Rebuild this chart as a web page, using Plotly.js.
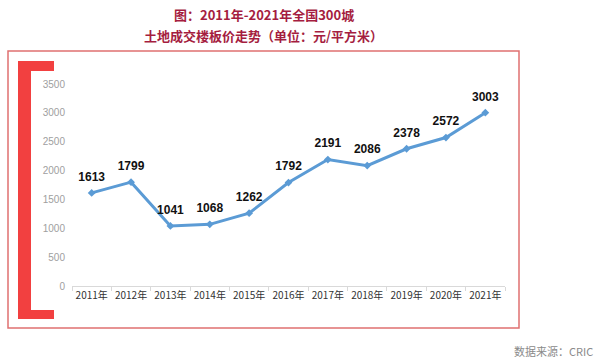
<!DOCTYPE html>
<html>
<head>
<meta charset="utf-8">
<script src="https://cdn.plot.ly/plotly-3.0.1.min.js"></script>
<style>
html,body{margin:0;padding:0;background:#fff;}
#chart{width:600px;height:361px;}
</style>
</head>
<body>
<div id="chart"></div>
<script>
var years = ["2011年","2012年","2013年","2014年","2015年","2016年","2017年","2018年","2019年","2020年","2021年"];
var prices = [1613, 1799, 1041, 1068, 1262, 1792, 2191, 2086, 2378, 2572, 3003];
var yTicks = [0, 500, 1000, 1500, 2000, 2500, 3000, 3500];
var titleLines = ["图：2011年-2021年全国300城", "土地成交楼板价走势（单位：元/平方米）"];
var sourceText = "数据来源：CRIC";

// plot area in pixels: x 72..505, y 84..286
var L = 72, R = 505, T = 84, B = 286;
function px(x){ return (x - L) / (R - L); }
function py(y){ return (B - y) / (B - T); }

var cjk = '"Noto Sans CJK SC", "Noto Sans", sans-serif';
var bracketColor = '#f24040';

var lineTrace = {
  x: years,
  y: prices,
  type: 'scatter',
  mode: 'lines+markers',
  line: {color: '#5b9bd5', width: 3},
  marker: {symbol: 'diamond', size: 6, color: '#5b9bd5'},
  cliponaxis: false,
  hoverinfo: 'x+y'
};

var labelTrace = {
  x: years,
  y: prices,
  type: 'scatter',
  mode: 'markers+text',
  marker: {size: 13, color: 'rgba(0,0,0,0)'},
  text: prices.map(String),
  textposition: 'top center',
  textfont: {family: '"Liberation Sans", Arial, sans-serif', size: 12, color: '#111', weight: 'bold'},
  cliponaxis: false,
  hoverinfo: 'skip'
};

var layout = {
  width: 600, height: 361,
  margin: {l: L, r: 600 - R, t: T, b: 361 - B, pad: 0},
  paper_bgcolor: '#fff', plot_bgcolor: '#fff',
  showlegend: false,
  font: {family: cjk},
  xaxis: {
    type: 'category',
    range: [-0.5, 10.5],
    showgrid: false, zeroline: false,
    showline: true, linecolor: '#d9d9d9', linewidth: 1,
    ticks: 'outside', tickson: 'boundaries', ticklen: 4, tickcolor: '#d9d9d9',
    tickangle: 0,
    tickfont: {family: cjk, size: 10, color: '#333'},
    fixedrange: true
  },
  yaxis: {
    range: [0, 3500],
    tickvals: yTicks,
    ticktext: yTicks.map(String),
    showgrid: false, zeroline: false, showline: false,
    ticks: '',
    ticklabelstandoff: 6,
    tickfont: {family: '"Liberation Sans", Arial, sans-serif', size: 10, color: '#a0a0a0'},
    fixedrange: true
  },
  shapes: [
    {type: 'rect', xref: 'paper', yref: 'paper', x0: px(8), x1: px(519), y0: py(328), y1: py(51),
     line: {color: '#e07070', width: 1.5}, fillcolor: 'rgba(0,0,0,0)', layer: 'below'},
    {type: 'rect', xref: 'paper', yref: 'paper', x0: px(18), x1: px(54), y0: py(71), y1: py(61),
     line: {width: 0}, fillcolor: bracketColor},
    {type: 'rect', xref: 'paper', yref: 'paper', x0: px(18), x1: px(31), y0: py(319), y1: py(61),
     line: {width: 0}, fillcolor: bracketColor},
    {type: 'rect', xref: 'paper', yref: 'paper', x0: px(18), x1: px(54), y0: py(319), y1: py(310),
     line: {width: 0}, fillcolor: bracketColor}
  ],
  annotations: [
    {xref: 'paper', yref: 'paper', x: px(263.5), y: py(15), xanchor: 'center', yanchor: 'middle',
     text: '<b>' + titleLines[0] + '</b>', showarrow: false,
     font: {family: cjk, size: 13, color: '#a51d40'}},
    {xref: 'paper', yref: 'paper', x: px(263.5), y: py(35), xanchor: 'center', yanchor: 'middle',
     text: '<b>' + titleLines[1] + '</b>', showarrow: false,
     font: {family: cjk, size: 13, color: '#a51d40'}},
    {xref: 'paper', yref: 'paper', x: px(595), y: py(351), xanchor: 'right', yanchor: 'middle',
     text: sourceText, showarrow: false,
     font: {family: cjk, size: 11, color: '#8a8a8a'}}
  ]
};

Plotly.newPlot('chart', [lineTrace, labelTrace], layout, {displayModeBar: false, staticPlot: true});
</script>
</body>
</html>
